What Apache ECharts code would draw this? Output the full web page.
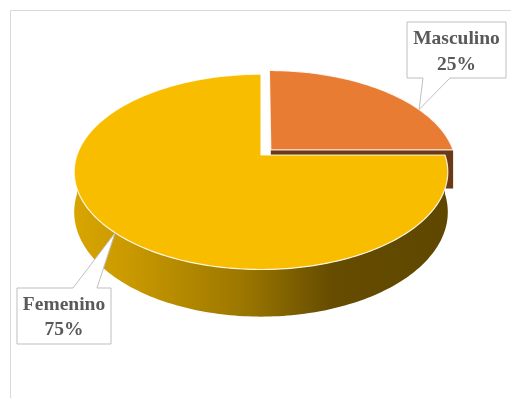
<!DOCTYPE html>
<html>
<head>
<meta charset="utf-8">
<script src="https://cdn.jsdelivr.net/npm/echarts@6/dist/echarts.min.js"></script>
<style>
  html, body { margin: 0; padding: 0; background: #fff; }
  #chart { width: 511px; height: 398px; }
</style>
</head>
<body>
<div id="chart"></div>
<script>
var categories = ['Masculino', 'Femenino'];
var values = [25, 75];
var explode = [14, 0];

var topColors = ['#E97C33', '#F9BD00'];
var cutColors = ['#6B3915', '#6A5000'];

// label box + angle on the rim where its pointer ends
var callouts = [
  { angle: -28, box: [407, 22, 506, 78], base: [423, 450], side: 'bottom', lines: [38.5, 65] },
  { angle: 134, box: [17, 288, 111, 344], base: [73, 97], side: 'top', lines: [305, 330] }
];

var view = { cx: 261, cy: 155, r: 184, h: 39, d: 915, tilt: 31 };
var sinA = Math.sin(view.tilt * Math.PI / 180);
var cosA = Math.cos(view.tilt * Math.PI / 180);

var proj = function (X, Z, h) {
  var s = view.d / (view.d - Z * cosA);
  return [view.cx + X * s, view.cy + (Z * sinA + h) * s];
};

var total = values.reduce(function (a, b) { return a + b; }, 0);
var slices = [];
var start = -Math.PI / 2;
for (var i = 0; i < values.length; i++) {
  var sweep = values[i] / total * Math.PI * 2;
  var mid = start + sweep / 2;
  slices.push({
    a0: start,
    a1: start + sweep,
    ox: explode[i] * Math.cos(mid),
    oz: explode[i] * Math.sin(mid)
  });
  start += sweep;
}

var arc = function (sl, a0, a1, h) {
  var pts = [];
  var n = Math.max(2, Math.ceil((a1 - a0) / 0.02));
  for (var k = 0; k <= n; k++) {
    var t = a0 + (a1 - a0) * k / n;
    pts.push(proj(sl.ox + view.r * Math.cos(t), sl.oz + view.r * Math.sin(t), h));
  }
  return pts;
};

var sideFill = function (i) {
  if (i === 0) return '#5E2F10';
  return {
    type: 'linear', global: true, x: 73, y: 0, x2: 449, y2: 0,
    colorStops: [
      { offset: 0, color: '#D8A500' },
      { offset: 0.15, color: '#C99900' },
      { offset: 0.45, color: '#9C7700' },
      { offset: 0.69, color: '#654C00' },
      { offset: 1, color: '#5F4700' }
    ]
  };
};

var renderItem = function (params, api) {
  var i = params.dataIndex;
  var sl = slices[i];
  var z = i * 10;
  var children = [];

  // cut faces that face the viewer
  [[sl.a0, sl.a0 - Math.PI / 2], [sl.a1, sl.a1 + Math.PI / 2]].forEach(function (e) {
    if (Math.sin(e[1]) > 0.01) {
      var rx = sl.ox + view.r * Math.cos(e[0]), rz = sl.oz + view.r * Math.sin(e[0]);
      children.push({
        type: 'polygon', z2: z + 1,
        shape: { points: [proj(sl.ox, sl.oz, 0), proj(rx, rz, 0), proj(rx, rz, view.h), proj(sl.ox, sl.oz, view.h)] },
        style: { fill: cutColors[i] }
      });
    }
  });

  // outer wall (front half)
  var lo = Math.max(sl.a0, 0), hi = Math.min(sl.a1, Math.PI);
  if (hi > lo) {
    var topEdge = arc(sl, lo, hi, 0);
    var botEdge = arc(sl, lo, hi, view.h).reverse();
    children.push({
      type: 'polygon', z2: z + 2,
      shape: { points: topEdge.concat(botEdge) },
      style: { fill: sideFill(i) }
    });
  }

  // top face
  children.push({
    type: 'polygon', z2: z + 3,
    shape: { points: [proj(sl.ox, sl.oz, 0)].concat(arc(sl, sl.a0, sl.a1, 0)) },
    style: { fill: topColors[i], stroke: 'rgba(255,255,255,0.85)', lineWidth: 1.2, lineJoin: 'round' }
  });

  // callout
  var c = callouts[i];
  var ta = c.angle * Math.PI / 180;
  var tip = proj(sl.ox + view.r * Math.cos(ta), sl.oz + view.r * Math.sin(ta), 0);
  var b = c.box, pts;
  if (c.side === 'bottom') {
    pts = [[b[0], b[1]], [b[2], b[1]], [b[2], b[3]], [c.base[1], b[3]], tip, [c.base[0], b[3]], [b[0], b[3]]];
  } else {
    pts = [[b[0], b[1]], [c.base[0], b[1]], tip, [c.base[1], b[1]], [b[2], b[1]], [b[2], b[3]], [b[0], b[3]]];
  }
  children.push({
    type: 'polygon', z2: 100,
    shape: { points: pts },
    style: { fill: '#fff', stroke: '#BFBFBF', lineWidth: 1 }
  });
  var cxText = (b[0] + b[2]) / 2;
  var pct = Math.round(api.value(0) / total * 100) + '%';
  [categories[i], pct].forEach(function (txt, k) {
    children.push({
      type: 'text', z2: 101,
      style: {
        text: txt, x: cxText, y: c.lines[k],
        align: 'center', verticalAlign: 'middle',
        fontFamily: '"Liberation Serif", "Times New Roman", serif',
        fontWeight: 'bold', fontSize: 19.5, fill: '#595959'
      }
    });
  });

  return { type: 'group', children: children };
};

var chart = echarts.init(document.getElementById('chart'));
chart.setOption({
  animation: false,
  backgroundColor: '#fff',
  graphic: [{
    type: 'rect', silent: true, z: -1,
    shape: { x: 10.5, y: 10.5, width: 540, height: 420 },
    style: { fill: 'none', stroke: '#D9D9D9', lineWidth: 1 }
  }],
  series: [{
    type: 'custom',
    coordinateSystem: 'none',
    silent: true,
    renderItem: renderItem,
    data: values.map(function (v, i) { return { name: categories[i], value: [v] }; })
  }]
});
</script>
</body>
</html>
